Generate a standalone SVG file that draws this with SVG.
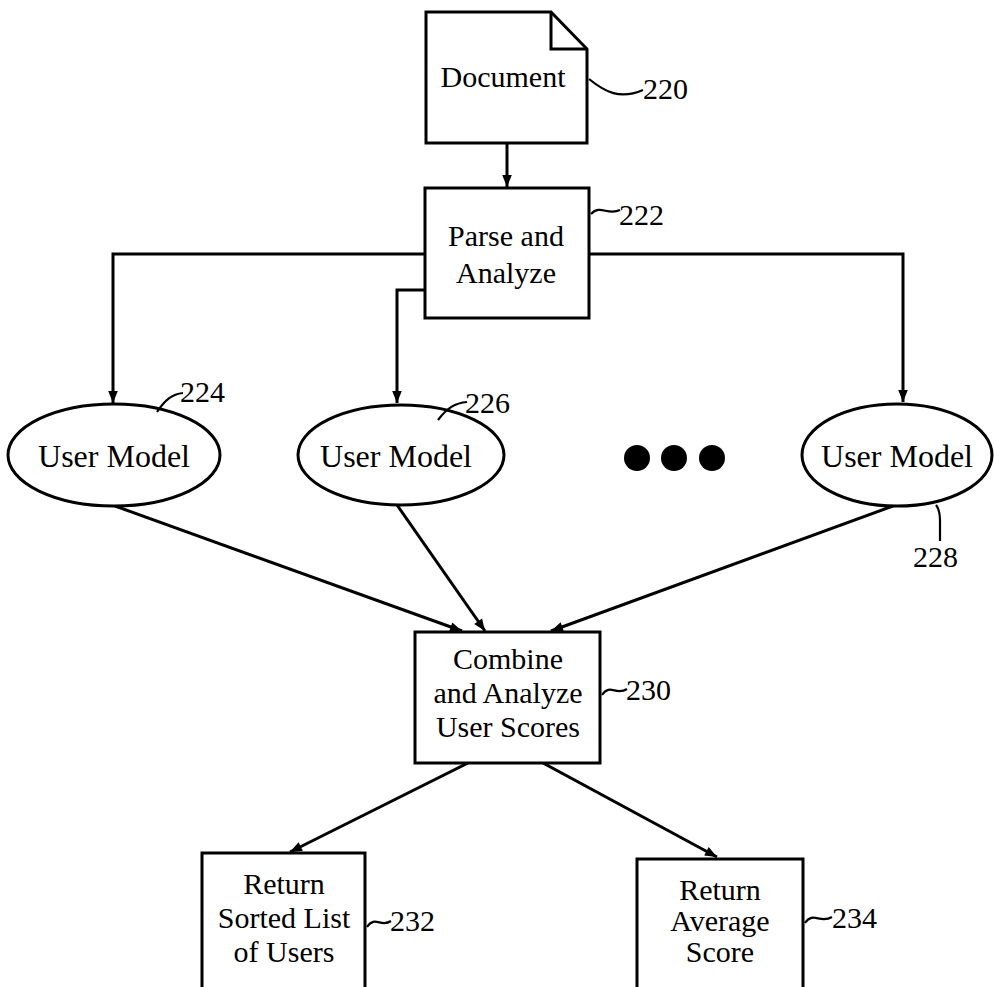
<svg xmlns="http://www.w3.org/2000/svg" width="994" height="987" viewBox="0 0 994 987">
<defs>
<style>
.box{fill:#fff;stroke:#000;stroke-width:3}
.ln{fill:none;stroke:#000;stroke-width:3}
.ld{fill:none;stroke:#000;stroke-width:2.2}
text{font-family:'Liberation Serif','DejaVu Serif','Times New Roman',serif;font-size:30px;fill:#000}
.t{text-anchor:middle}
.um{font-size:32px}
</style>
<marker id="ah" viewBox="0 0 10 10" refX="10" refY="5" markerWidth="5" markerHeight="4" orient="auto" markerUnits="strokeWidth">
<path d="M0,1 L10,5 L0,9 z" fill="#000"/>
</marker>
</defs>
<rect width="994" height="987" fill="#fff"/>
<g id="connectors">
<path class="ln" d="M507,143 L507,187" marker-end="url(#ah)"/>
<path class="ln" d="M425,254 L113,254 L113,403" marker-end="url(#ah)"/>
<path class="ln" d="M589,254 L903,254 L903,402" marker-end="url(#ah)"/>
<path class="ln" d="M425,290 L397,290 L397,403" marker-end="url(#ah)"/>
<path class="ln" d="M115,506 L462,631" marker-end="url(#ah)"/>
<path class="ln" d="M397,505 L485,631" marker-end="url(#ah)"/>
<path class="ln" d="M893,506 L551,631" marker-end="url(#ah)"/>
<path class="ln" d="M468,763 L290,852" marker-end="url(#ah)"/>
<path class="ln" d="M543,763 L717,857" marker-end="url(#ah)"/>
</g>
<g id="n220">
<path class="box" d="M426,12 L551,12 L587,49 L587,143 L426,143 Z"/>
<path class="ln" d="M551,12 L551,49 L587,49"/>
<text class="t" x="503" y="87">Document</text>
<path class="ld" d="M589,79 C605,92 620,100 643,90"/>
<text x="643" y="99">220</text>
</g>
<g id="n222">
<rect class="box" x="425" y="188" width="164" height="130"/>
<text class="t" x="506" y="246">Parse and</text>
<text class="t" x="506" y="283">Analyze</text>
<path class="ld" d="M591,214 C600,204 608,216 620,210"/>
<text x="619" y="225">222</text>
</g>
<g id="n224">
<ellipse class="box" cx="114" cy="455" rx="106" ry="51"/>
<text class="t um" x="114" y="467">User Model</text>
<path class="ld" d="M157,412 C165,400 172,394 183,393"/>
<text x="180" y="402">224</text>
</g>
<g id="n226">
<ellipse class="box" cx="401" cy="455" rx="103" ry="50"/>
<text class="t um" x="396" y="467">User Model</text>
<path class="ld" d="M438,420 C447,408 455,403 467,402"/>
<text x="465" y="413">226</text>
</g>
<g id="dots">
<circle cx="637" cy="458" r="13" fill="#000"/>
<circle cx="674" cy="458" r="13" fill="#000"/>
<circle cx="712" cy="458" r="13" fill="#000"/>
</g>
<g id="n228">
<ellipse class="box" cx="897" cy="455" rx="95" ry="51"/>
<text class="t um" x="897" y="467">User Model</text>
<path class="ld" d="M936,505 C940,510 940,515 940,520 L940,541"/>
<text x="913" y="567">228</text>
</g>
<g id="n230">
<rect class="box" x="415" y="632" width="185" height="131"/>
<text class="t" x="508" y="669">Combine</text>
<text class="t" x="508" y="703">and Analyze</text>
<text class="t" x="508" y="737">User Scores</text>
<path class="ld" d="M602,695 C610,683 616,696 627,689"/>
<text x="626" y="700">230</text>
</g>
<g id="n232">
<path class="box" d="M202,995 L202,853 L365,853 L365,995"/>
<text class="t" x="284" y="894">Return</text>
<text class="t" x="284" y="928">Sorted List</text>
<text class="t" x="284" y="962">of Users</text>
<path class="ld" d="M367,927 C375,915 381,928 391,921"/>
<text x="390" y="931">232</text>
</g>
<g id="n234">
<path class="box" d="M637,995 L637,859 L803,859 L803,995"/>
<text class="t" x="720" y="900">Return</text>
<text class="t" x="720" y="931">Average</text>
<text class="t" x="720" y="962">Score</text>
<path class="ld" d="M805,923 C813,911 820,924 832,917"/>
<text x="832" y="928">234</text>
</g>
</svg>
